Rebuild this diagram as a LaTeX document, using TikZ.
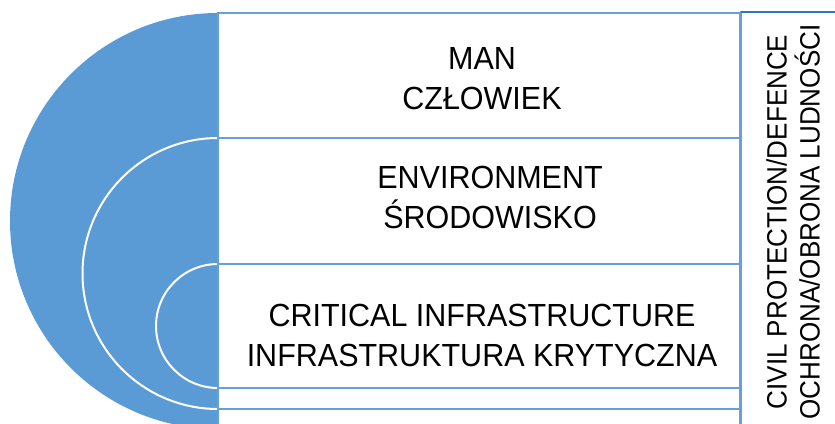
\documentclass[tikz,border=0pt]{standalone}
\usepackage{fontspec}
\newfontfamily\boxfont{Liberation Sans}[FakeStretch=0.953]
\newfontfamily\sidefont{Liberation Sans}[FakeStretch=0.93]
\definecolor{tblue}{HTML}{5B9BD5}
\definecolor{lblue}{HTML}{66A0D8}
\definecolor{dblue}{HTML}{2F74C0}
\begin{document}
\begin{tikzpicture}[x=1pt,y=-1pt,
  boxrect/.style={draw=lblue,line width=2.5pt,fill=white},
  ringfill/.style={fill=tblue},
  ring/.style={fill=tblue,draw=white,line width=2pt},
  lbl/.style={font=\boxfont\fontsize{32}{40}\selectfont,align=center,inner sep=0pt,text=black},
  sidelbl/.style={font=\sidefont\fontsize{28}{33}\selectfont,align=center,inner sep=0pt,rotate=90,text=black}]
\useasboundingbox (0,0) rectangle (835,423);
\clip (0,0) rectangle (835,423);
\fill[white] (0,0) rectangle (835,423);
% nested half discs
\path[ringfill] (218,13) arc[start angle=270,end angle=90,radius=208] -- cycle;
\path[ring] (218,138) arc[start angle=270,end angle=90,radius=135.5];
\path[ring] (218,264) arc[start angle=270,end angle=90,radius=62];
% nested boxes
\draw[boxrect] (218,13) rectangle (740,431);
\draw[boxrect] (218,138) rectangle (740,409);
\draw[boxrect] (218,264) rectangle (740,388);
% side column
\draw[draw=lblue,line width=2.5pt] (741,12) rectangle (850,440);
\draw[dblue,line width=2.5pt] (741,12) -- (850,12);
% labels
\node[lbl] (man) at (482,78.5) {MAN\\CZŁOWIEK};
\node[lbl] (env) at (490,197.5) {ENVIRONMENT\\ŚRODOWISKO};
\node[lbl] (ci) at (482,335.5) {CRITICAL INFRASTRUCTURE\\INFRASTRUKTURA KRYTYCZNA};
\node[sidelbl] (side) at (793,222) {CIVIL PROTECTION/DEFENCE\\OCHRONA/OBRONA LUDNOŚCI};
\end{tikzpicture}
\end{document}
